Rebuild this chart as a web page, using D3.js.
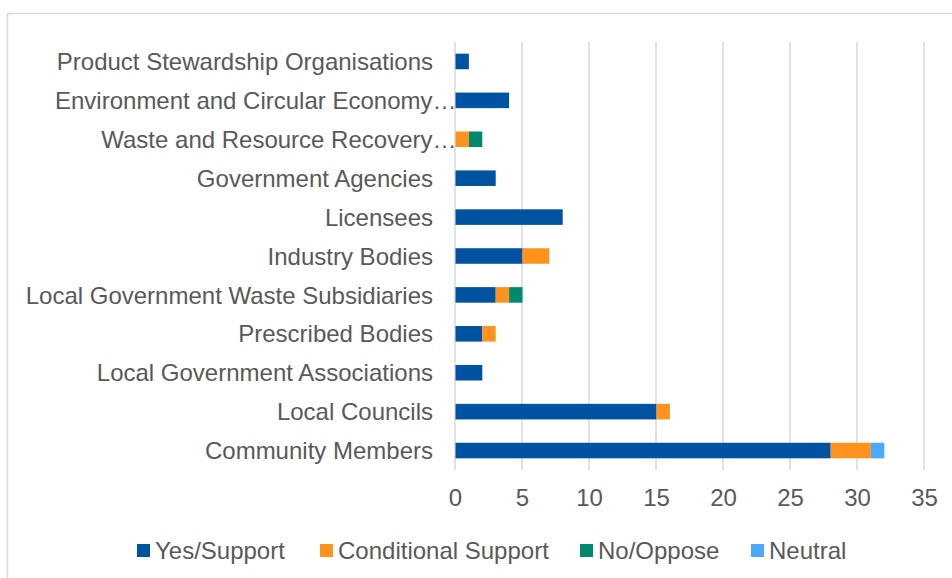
<!DOCTYPE html>
<html>
<head>
<meta charset="utf-8">
<script src="https://cdn.jsdelivr.net/npm/d3@7/dist/d3.min.js"></script>
<style>
  html, body { margin: 0; padding: 0; background: #ffffff; }
  svg { display: block; font-family: "Liberation Sans", Arial, sans-serif; }
</style>
</head>
<body>
<svg id="chart" width="952" height="578"></svg>
<script>
// Stakeholder groups, top to bottom
const categories = [
  "Product Stewardship Organisations",
  "Environment and Circular Economy…",
  "Waste and Resource Recovery…",
  "Government Agencies",
  "Licensees",
  "Industry Bodies",
  "Local Government Waste Subsidiaries",
  "Prescribed Bodies",
  "Local Government Associations",
  "Local Councils",
  "Community Members"
];

// Number of submissions per position
const yesSupport         = [1, 4, 0, 3, 8, 5, 3, 2, 2, 15, 28];
const conditionalSupport = [0, 0, 1, 0, 0, 2, 1, 1, 0, 1, 3];
const noOppose           = [0, 0, 1, 0, 0, 0, 1, 0, 0, 0, 0];
const neutral            = [0, 0, 0, 0, 0, 0, 0, 0, 0, 0, 1];

const seriesNames = ["Yes/Support", "Conditional Support", "No/Oppose", "Neutral"];
const seriesColors = ["#0053A1", "#FF931E", "#00896D", "#4AA8FF"];
const xTicks = [0, 5, 10, 15, 20, 25, 30, 35];

const seriesValues = [yesSupport, conditionalSupport, noOppose, neutral];
const rows = categories.map((c, i) => {
  const r = { category: c };
  seriesNames.forEach((s, k) => { r[s] = seriesValues[k][i]; });
  return r;
});

const svg = d3.select("#chart");
const textColor = "#595959";
const gridColor = "#d9d9d9";
const fontSize = "24px";

// chart area frame
svg.append("rect")
  .attr("x", 7.5).attr("y", 13.5)
  .attr("width", 1000).attr("height", 1000)
  .attr("fill", "none")
  .attr("stroke", gridColor)
  .attr("stroke-width", 1.5);

const plot = { left: 455, right: 924, top: 42, bottom: 470 };

const x = d3.scaleLinear().domain([0, 35]).range([plot.left, plot.right]);
const y = d3.scaleBand().domain(categories)
  .range([plot.top, plot.bottom])
  .paddingInner(0.6).paddingOuter(0.3);

// vertical gridlines
svg.append("g").selectAll("line")
  .data(xTicks)
  .join("line")
  .attr("x1", d => x(d)).attr("x2", d => x(d))
  .attr("y1", plot.top).attr("y2", plot.bottom)
  .attr("stroke", gridColor)
  .attr("stroke-width", 1.5);

// stacked bars
const stack = d3.stack().keys(seriesNames);
const layers = stack(rows);
const color = d3.scaleOrdinal().domain(seriesNames).range(seriesColors);

svg.append("g").selectAll("g")
  .data(layers)
  .join("g")
  .attr("fill", d => color(d.key))
  .selectAll("rect")
  .data(d => d.filter(p => p[1] > p[0]))
  .join("rect")
  .attr("x", d => x(d[0]) + 0.5)
  .attr("width", d => x(d[1]) - x(d[0]))
  .attr("y", d => y(d.data.category))
  .attr("height", y.bandwidth());

// category labels; truncated names run up to the axis
svg.append("g").selectAll("text")
  .data(categories)
  .join("text")
  .attr("x", d => d.endsWith("…") ? plot.left + 1.5 : plot.left - 22)
  .attr("y", d => y(d) + y.bandwidth() / 2)
  .attr("dy", "0.36em")
  .attr("text-anchor", "end")
  .attr("fill", textColor)
  .style("font-size", fontSize)
  .text(d => d);

// x axis tick labels
const xAxis = d3.axisBottom(x).tickValues(xTicks).tickSize(0).tickPadding(0);
const axisG = svg.append("g")
  .attr("transform", `translate(0,${plot.bottom})`)
  .call(xAxis);
axisG.select(".domain").remove();
axisG.selectAll("text")
  .attr("y", 36)
  .attr("dy", 0)
  .attr("fill", textColor)
  .style("font-size", fontSize)
  .style("font-family", "\"Liberation Sans\", Arial, sans-serif");

// legend
const legendX = [137, 320, 580, 751];
const legend = svg.append("g").selectAll("g")
  .data(seriesNames)
  .join("g")
  .attr("transform", (d, i) => `translate(${legendX[i]},544)`);
legend.append("rect")
  .attr("width", 13).attr("height", 13)
  .attr("fill", d => color(d));
legend.append("text")
  .attr("x", 18).attr("y", 15)
  .attr("fill", textColor)
  .style("font-size", fontSize)
  .text(d => d);
</script>
</body>
</html>
